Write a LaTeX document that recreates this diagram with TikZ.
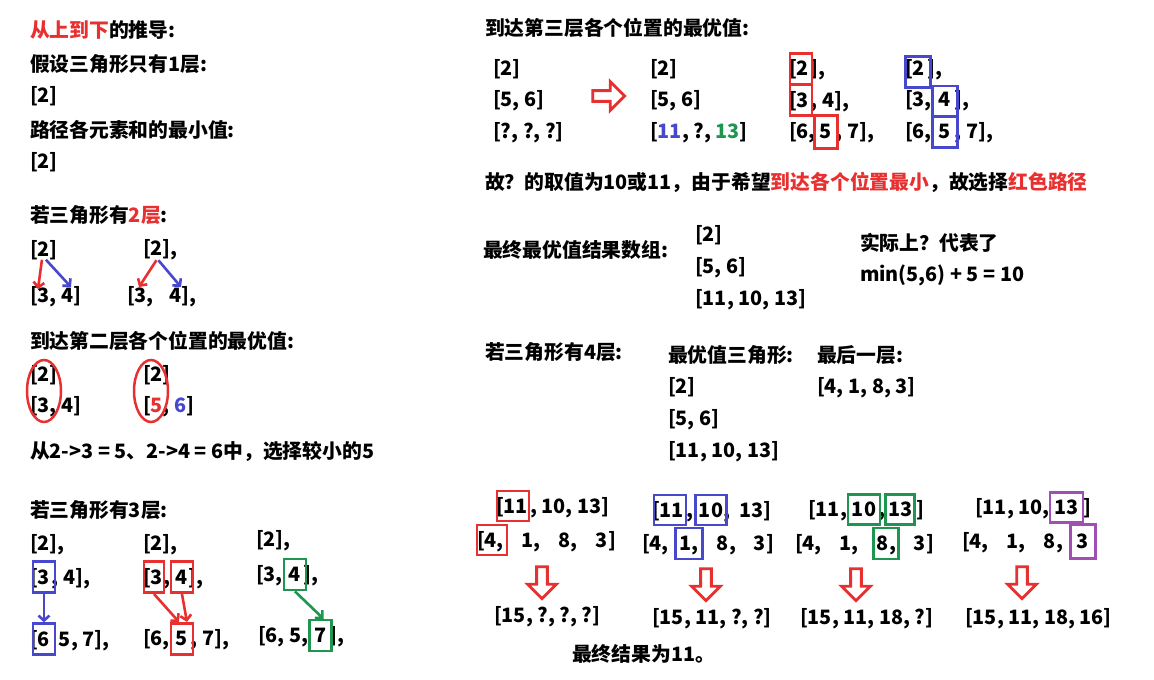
\documentclass[tikz,border=0pt]{standalone}
\usepackage{fontspec}
\setmainfont{Noto Sans CJK SC}
\usetikzlibrary{arrows.meta,shapes.geometric,shapes.arrows}
\definecolor{rd}{RGB}{232,48,48}
\definecolor{bl}{RGB}{72,72,205}
\definecolor{gr}{RGB}{30,150,80}
\definecolor{pu}{RGB}{160,80,180}
\newcommand\fsz{\fontsize{19.8}{23}\selectfont\bfseries}
\newcommand\nx[3]{\node[tb] (#2) at (#1.base east) {#3};}
\newcommand\gap{\kern18pt}
\newcommand\sk{\kern5pt}
\tikzset{
  t/.style={anchor=west,inner sep=0pt,outer sep=0pt,font=\fsz},
  tb/.style={anchor=base west,inner sep=0pt,outer sep=0pt,font=\fsz},
  bx/.style={draw=#1,line width=2.6pt,inner sep=0pt,minimum width=22pt,minimum height=31pt},
  bxw/.style={draw=#1,line width=2.6pt,inner sep=0pt,minimum width=32pt,minimum height=30pt},
  ar/.style={draw=#1,line width=2.6pt,-{Straight Barb[length=5pt,width=11pt]}},
  el/.style={draw=rd,ellipse,line width=2.5pt,minimum width=34pt,minimum height=62pt,inner sep=0pt},
  ha/.style={single arrow,draw=rd,line width=2.8pt,minimum height=32pt,minimum width=29pt,
    single arrow head extend=7.5pt,single arrow tip angle=90,inner sep=3pt},
}
\begin{document}
\begin{tikzpicture}[x=1pt,y=-1pt]
\useasboundingbox (0,0) rectangle (1154,680);
\fill[white] (0,0) rectangle (1154,680);
% ---------------- left column ----------------
\node[t] (h1) at (30,30) {\textcolor{rd}{从上到下}的推导:};
\node[t] (h2) at (30,64) {假设三角形只有1层:};
\node[t] (a1) at (30,96) {[2]};
\node[t] (h3) at (30,130) {路径各元素和的最小值:};
\node[t] (a2) at (30,162) {[2]};
\node[t] (h4) at (30,215) {若三角形有\textcolor{rd}{2层}:};
\node[t] (p1) at (30,250) {[2]};
\node[t] (p2) at (30,297) {[3, 4]};
\node[t] (q1) at (143,250) {[2],};
\node[t] (q2) at (127,297) {[3,\kern16pt 4],};
\coordinate (p1r) at (38,289);
\coordinate (p1b) at (71,287);
\coordinate (q1r) at (139,287);
\coordinate (q1b) at (181,287);
\draw[ar=rd] ([xshift=-2pt]p1.south) -- (p1r);
\draw[ar=bl] ([xshift=2pt]p1.south) -- (p1b);
\draw[ar=rd] ([xshift=-4pt]q1.south) -- (q1r);
\draw[ar=bl] ([xshift=-2pt]q1.south) -- (q1b);
\node[t] (h5) at (30,341) {到达第二层各个位置的最优值:};
\node[t] (e1a) at (30,375) {[2]};
\node[t] (e1b) at (30,407) {[3, 4]};
\node[el] (E1) at (44,391) {};
\node[t] (e2a) at (143,375) {[2]};
\node[t] (e2b) at (143,407) {[\textcolor{rd}{5}, \textcolor{bl}{6}]};
\node[el] (E2) at (151,391) {};
\node[t] (h6) at (30,451) {从2->3 = 5、2->4 = 6中，选择较小的5};
\node[t] (h7) at (30,510) {若三角形有3层:};
% group 1
\node[t] (u1) at (30,545) {[2],};
\node[t] (u2a) at (30,578) {[}; \nx{u2a}{u2b}{3} \nx{u2b}{u2c}{\kern2pt, 4],}
\node[t] (u3a) at (30,640) {[}; \nx{u3a}{u3b}{6} \nx{u3b}{u3c}{\kern9pt 5, 7],}
\node[bx=bl] (U1) at (u2b) {};
\node[bx=bl] (U2) at (u3b) {};
\draw[ar=bl] (U1) -- (U2);
% group 2
\node[t] (v1) at (143,545) {[2],};
\node[t] (v2a) at (143,578) {[}; \nx{v2a}{v2b}{3} \nx{v2b}{v2c}{\kern1pt,\kern5pt} \nx{v2c}{v2d}{4} \nx{v2d}{v2e}{\kern1pt],}
\node[t] (v3a) at (143,640) {[6,\kern6pt}; \nx{v3a}{v3b}{5} \nx{v3b}{v3c}{\kern3pt, 7],}
\node[bx=rd, minimum width=20pt] (V1) at ([xshift=-3pt]v2b) {};
\node[bx=rd] (V2) at (v2d) {};
\node[bx=rd] (V3) at (v3b) {};
\draw[ar=rd] (V1.south) -- ([xshift=-3pt]V3.north);
\draw[ar=rd] (V2.south) -- ([xshift=5pt]V3.north);
% group 3
\node[t] (w1) at (256,541) {[2],};
\node[t] (w2a) at (256,576) {[3,\kern6pt}; \nx{w2a}{w2b}{4} \nx{w2b}{w2c}{\kern3pt],}
\node[t] (w3a) at (258,637) {[6, 5,\kern6pt}; \nx{w3a}{w3b}{7} \nx{w3b}{w3c}{\kern3pt],}
\node[bx=gr] (W1) at (w2b) {};
\node[bx=gr] (W2) at (w3b) {};
\draw[ar=gr] (W1.south) -- ([xshift=3pt]W2.north);
% ---------------- right column ----------------
\node[t] (r1) at (485,28) {到达第三层各个位置的最优值:};
\node[t] (A1) at (493,69) {[2]};
\node[t] (A2) at (493,101) {[5, 6]};
\node[t] (A3) at (493,133) {[?, ?, ?]};
\node[ha] (HA) at (606,96) {};
\node[t] (B1) at (650,69) {[2]};
\node[t] (B2) at (650,101) {[5, 6]};
\node[t] (B3) at (650,133) {[\textcolor{bl}{11}, ?, \textcolor{gr}{13}]};
\node[t] (c1a) at (789,69) {[}; \nx{c1a}{c1b}{2} \nx{c1b}{c1c}{\kern2pt],}
\node[t] (c2a) at (789,101) {[}; \nx{c2a}{c2b}{3} \nx{c2b}{c2c}{\kern2pt, 4],}
\node[t] (c3a) at (789,133) {[6,\kern4pt}; \nx{c3a}{c3b}{5} \nx{c3b}{c3c}{\kern4pt, 7],}
\node[bx=rd] (C1) at ([xshift=-2pt,yshift=-1pt]c1b) {};
\node[bx=rd] (C2) at ([xshift=-2pt]c2b) {};
\node[bx=rd, minimum width=23pt, minimum height=33pt] (C3) at (c3b) {};
\node[t] (d1a) at (905,69) {[}; \nx{d1a}{d1b}{2} \nx{d1b}{d1c}{\kern3pt],}
\node[t] (d2a) at (905,101) {[3,\kern7pt}; \nx{d2a}{d2b}{4} \nx{d2b}{d2c}{\kern4pt],}
\node[t] (d3a) at (905,133) {[6,\kern7pt}; \nx{d3a}{d3b}{5} \nx{d3b}{d3c}{\kern4pt, 7],}
\node[bx=bl, minimum width=25pt] (D1) at ([xshift=-1pt,yshift=-4pt]d1b) {};
\node[bx=bl, minimum width=25pt] (D2) at ([yshift=-2pt]d2b) {};
\node[bx=bl, minimum width=25pt] (D3) at (d3b) {};
\node[t] (r2) at (485,182) {故？的取值为10或11，由于希望\textcolor{rd}{到达各个位置最小}，故选择\textcolor{rd}{红色路径}};
\node[t] (r3) at (483,250) {最终最优值结果数组:};
\node[t] (F1) at (695,235) {[2]};
\node[t] (F2) at (695,268) {[5, 6]};
\node[t] (F3) at (695,300) {[11, 10, 13]};
\node[t] (s1) at (860,243) {实际上？代表了};
\node[t] (s2) at (860,275) {min(5,6) + 5 = 10};
\node[t] (r4) at (485,352) {若三角形有4层:};
\node[t] (o0) at (668,355) {最优值三角形:};
\node[t] (o1) at (668,387) {[2]};
\node[t] (o2) at (668,420) {[5, 6]};
\node[t] (o3) at (668,452) {[11, 10, 13]};
\node[t] (l0) at (817,355) {最后一层:};
\node[t] (l1) at (817,388) {[4, 1, 8, 3]};
% ---------------- bottom groups ----------------
% G1
\node[t] (g1a) at (496,507) {[}; \nx{g1a}{g1b}{11} \nx{g1b}{g1c}{\kern2pt, 10, 13]}
\node[t] (g1d) at (477,541) {[}; \nx{g1d}{g1e}{4} \nx{g1e}{g1f}{,\gap 1,\gap 8,\gap 3]}
\node[bxw=rd] (G1a) at ([xshift=-3pt]g1b) {};
\node[bxw=rd, minimum width=30pt] (G1b) at ([xshift=1pt]g1e) {};
\node[ha, rotate=-90] (HD1) at (542,580) {};
\node[t] (g1r) at (494,617) {[15, ?, ?, ?]};
% G2
\node[t] (g2a) at (652,511) {[}; \nx{g2a}{g2b}{11} \nx{g2b}{g2c}{\kern2pt,\kern6pt} \nx{g2c}{g2d}{10} \nx{g2d}{g2e}{,\kern9pt 13]}
\node[t] (g2f) at (642,545) {[4,\kern11pt}; \nx{g2f}{g2g}{1} \nx{g2g}{g2h}{,\gap 8,\gap 3]}
\node[bxw=bl] (G2a) at ([xshift=-2pt]g2b) {};
\node[bxw=bl, minimum width=31pt] (G2b) at (g2d) {};
\node[bx=bl, minimum width=27pt] (G2c) at ([xshift=3pt]g2g) {};
\node[ha, rotate=-90] (HD2) at (706,582) {};
\node[t] (g2r) at (652,619) {[15, 11, ?, ?]};
% G3
\node[t] (g3a) at (808,511) {[11,\kern5pt}; \nx{g3a}{g3b}{10} \nx{g3b}{g3c}{\kern2pt,\kern3pt} \nx{g3c}{g3d}{13} \nx{g3d}{g3e}{\kern4pt]}
\node[t] (g3f) at (795,545) {[4,\gap 1,\gap}; \nx{g3f}{g3g}{8} \nx{g3g}{g3h}{,\gap 3]}
\node[bxw=gr] (G3a) at (g3b) {};
\node[bxw=gr, minimum width=29pt] (G3b) at (g3d) {};
\node[bx=gr, minimum width=25pt] (G3c) at ([xshift=3pt]g3g) {};
\node[ha, rotate=-90] (HD3) at (856,582) {};
\node[t] (g3r) at (800,619) {[15, 11, 18, ?]};
% G4
\node[t] (g4a) at (975,509) {[11, 10,\kern5pt}; \nx{g4a}{g4b}{13} \nx{g4b}{g4c}{\kern5pt]}
\node[t] (g4d) at (962,543) {[4,\gap 1,\gap 8,\kern14pt}; \nx{g4d}{g4e}{3}
\node[bxw=pu, minimum width=33pt] (G4a) at (g4b) {};
\node[bx=pu, minimum width=25pt, minimum height=34pt] (G4b) at (g4e) {};
\node[ha, rotate=-90] (HD4) at (1022,580) {};
\node[t] (g4r) at (965,619) {[15, 11, 18, 16]};
\node[t] (fin) at (572,654) {最终结果为11。};
\end{tikzpicture}
\end{document}
